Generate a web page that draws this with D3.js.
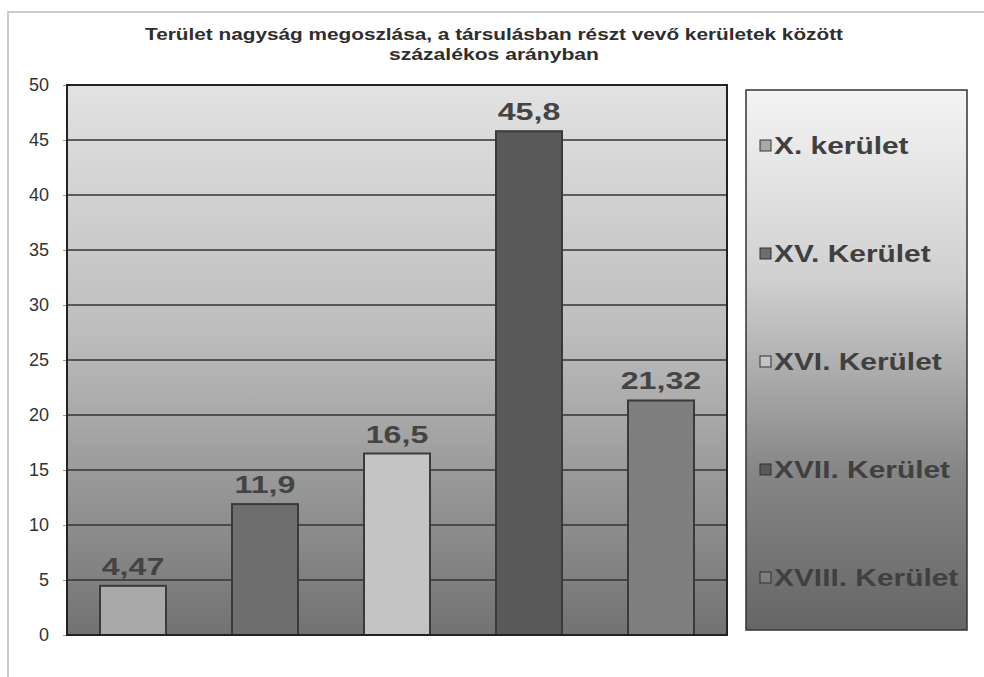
<!DOCTYPE html>
<html>
<head>
<meta charset="utf-8">
<script src="https://cdn.jsdelivr.net/npm/d3@7"></script>
<style>
  body { margin: 0; background: #fff; }
  svg { display: block; font-family: "Liberation Sans", Arial, sans-serif; }
</style>
</head>
<body>
<div id="chart"></div>
<script>
// Chart data
const CATEGORIES = ["X. kerület", "XV. Kerület", "XVI. Kerület", "XVII. Kerület", "XVIII. Kerület"];
const VALUES = [4.47, 11.9, 16.5, 45.8, 21.32];
const VALUE_LABELS = ["4,47", "11,9", "16,5", "45,8", "21,32"];
const Y_TICKS = [0, 5, 10, 15, 20, 25, 30, 35, 40, 45, 50];
const BAR_COLORS = ["#a9a9a9", "#6e6e6e", "#c4c4c4", "#595959", "#7f7f7f"];
const TITLE = ["Terület nagyság megoszlása, a társulásban részt vevő kerületek között", "százalékos arányban"];

const FRAME_WIDTH = 984;
const FRAME_HEIGHT = 677;
const PLOT = {left: 67, right: 727, top: 85, bottom: 635};
// the scan is a bit wider than tall, so text is stretched sideways
const STRETCH = 1.3;

const svg = d3.select("#chart").append("svg")
    .attr("width", FRAME_WIDTH)
    .attr("height", FRAME_HEIGHT);

const defs = svg.append("defs");
const plotGrad = defs.append("linearGradient")
    .attr("id", "plotGrad").attr("x1", 0).attr("y1", 0).attr("x2", 0).attr("y2", 1);
plotGrad.append("stop").attr("offset", "0%").attr("stop-color", "#e2e2e2");
plotGrad.append("stop").attr("offset", "45%").attr("stop-color", "#bdbdbd");
plotGrad.append("stop").attr("offset", "100%").attr("stop-color", "#727272");

const legGrad = defs.append("linearGradient")
    .attr("id", "legGrad").attr("x1", 0).attr("y1", 0).attr("x2", 0).attr("y2", 1);
legGrad.append("stop").attr("offset", "0%").attr("stop-color", "#f4f4f4");
legGrad.append("stop").attr("offset", "35%").attr("stop-color", "#d0d0d0");
legGrad.append("stop").attr("offset", "70%").attr("stop-color", "#878787");
legGrad.append("stop").attr("offset", "100%").attr("stop-color", "#666");

// faint scan frame
svg.append("path")
    .attr("d", "M8,677 L8,12 L984,12")
    .attr("fill", "none")
    .attr("stroke", "#bbb")
    .attr("stroke-width", 1.5);

// Title
const TITLE_WIDTHS = [698, 210];
svg.append("g").selectAll("text")
    .data(TITLE)
    .enter()
    .append("text")
    .attr("x", 494)
    .attr("y", (d, i) => 40 + i * 20)
    .attr("text-anchor", "middle")
    .attr("font-size", "17px")
    .attr("font-weight", "bold")
    .attr("fill", "#2e2e2e")
    .attr("textLength", (d, i) => TITLE_WIDTHS[i])
    .attr("lengthAdjust", "spacingAndGlyphs")
    .text(d => d);

// Scales
const xSCALE = d3.scaleBand()
    .domain(CATEGORIES)
    .range([PLOT.left, PLOT.right])
    .paddingInner(0.5)
    .paddingOuter(0.25);

const ySCALE = d3.scaleLinear()
    .domain([0, 50])
    .range([PLOT.bottom, PLOT.top]);

// Plot background
svg.append("rect")
    .attr("x", PLOT.left)
    .attr("y", PLOT.top)
    .attr("width", PLOT.right - PLOT.left)
    .attr("height", PLOT.bottom - PLOT.top)
    .attr("fill", "url(#plotGrad)");

// Gridlines
svg.append("g").selectAll("line")
    .data(Y_TICKS)
    .enter()
    .append("line")
    .attr("x1", PLOT.left)
    .attr("x2", PLOT.right)
    .attr("y1", d => ySCALE(d))
    .attr("y2", d => ySCALE(d))
    .attr("stroke", "#333")
    .attr("stroke-width", 1.6);

// Y axis
const yAxis = svg.append("g")
    .attr("transform", "translate(" + PLOT.left + ",0)")
    .call(d3.axisLeft(ySCALE).tickValues(Y_TICKS).tickSize(4).tickPadding(14));
yAxis.select(".domain").remove();
yAxis.selectAll("line").attr("stroke", "#999");
yAxis.selectAll("text")
    .attr("font-size", "18px")
    .attr("fill", "#333")
    .attr("font-family", "Liberation Sans, Arial, sans-serif");

// Bars
svg.append("g").selectAll("rect")
    .data(VALUES)
    .enter()
    .append("rect")
    .attr("x", (d, i) => xSCALE(CATEGORIES[i]))
    .attr("y", d => ySCALE(d))
    .attr("width", xSCALE.bandwidth())
    .attr("height", d => ySCALE(0) - ySCALE(d))
    .attr("fill", (d, i) => BAR_COLORS[i])
    .attr("stroke", "#3a3a3a")
    .attr("stroke-width", 2);

// Value labels
svg.append("g").selectAll("text")
    .data(VALUES)
    .enter()
    .append("text")
    .attr("transform", (d, i) => "translate(" + (xSCALE(CATEGORIES[i]) + xSCALE.bandwidth() / 2) +
        "," + (ySCALE(d) - 11) + ") scale(" + (STRETCH + 0.1) + ",1)")
    .attr("text-anchor", "middle")
    .attr("font-size", "23px")
    .attr("font-weight", "bold")
    .attr("fill", "#444")
    .text((d, i) => VALUE_LABELS[i]);

// Plot border
svg.append("rect")
    .attr("x", PLOT.left)
    .attr("y", PLOT.top)
    .attr("width", PLOT.right - PLOT.left)
    .attr("height", PLOT.bottom - PLOT.top)
    .attr("fill", "none")
    .attr("stroke", "#222")
    .attr("stroke-width", 2);

// Legend
const LEG = {x: 746, y: 90, w: 221, h: 540};
svg.append("rect")
    .attr("x", LEG.x).attr("y", LEG.y)
    .attr("width", LEG.w).attr("height", LEG.h)
    .attr("fill", "url(#legGrad)")
    .attr("stroke", "#333")
    .attr("stroke-width", 1.5);

const legItem = svg.append("g").selectAll("g")
    .data(CATEGORIES)
    .enter()
    .append("g")
    .attr("transform", (d, i) => "translate(" + (LEG.x + 14) + "," + (146 + i * 108) + ")");

legItem.append("rect")
    .attr("x", 0).attr("y", -6)
    .attr("width", 11).attr("height", 11)
    .attr("fill", (d, i) => BAR_COLORS[i])
    .attr("stroke", "#333")
    .attr("stroke-width", 1);

legItem.append("text")
    .attr("transform", "translate(14,0) scale(" + STRETCH + ",1)")
    .attr("dy", "0.36em")
    .attr("font-size", "23px")
    .attr("font-weight", "bold")
    .attr("fill", "#404040")
    .text(d => d);
</script>
</body>
</html>
